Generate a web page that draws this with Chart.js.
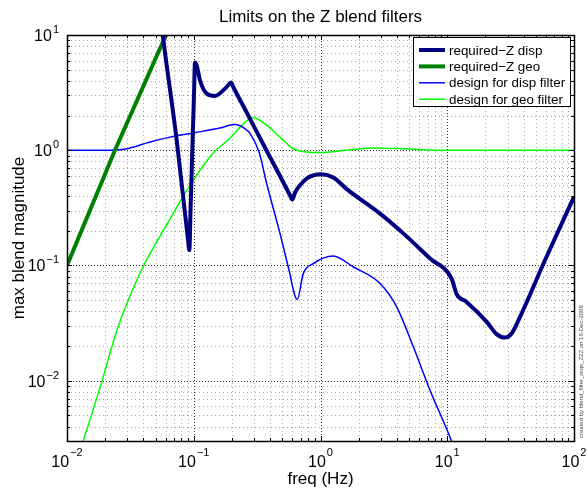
<!DOCTYPE html>
<html>
<head>
<meta charset="utf-8">
<script src="https://cdn.jsdelivr.net/npm/chart.js@4.4.0/dist/chart.umd.min.js"></script>
<style>
  html, body { margin: 0; padding: 0; background: #fff; }
  #wrap { width: 588px; height: 493px; position: relative; }
</style>
</head>
<body>
<div id="wrap"><canvas id="graf"></canvas></div>
<script>
// required-Z disp (thick navy)
const reqDispFreq = [0.0551, 0.0569, 0.0734, 0.0901, 0.0923, 0.0943, 0.1004, 0.1023, 0.106, 0.112, 0.1265, 0.147, 0.171, 0.19, 0.197, 0.205, 0.262, 0.376, 0.479, 0.5745, 0.6, 0.629, 0.778, 0.877, 1.02, 1.262, 1.61, 2.95, 4.5, 7.31, 10.8, 11.9, 14.2, 20.5, 24.5, 28.6, 32.2, 37.5, 59, 100]
const reqDispMag = [13.5, 10, 1.22, 0.167, 0.136, 0.298, 2.99, 5.76, 5.35, 4.05, 3.1, 2.96, 3.31, 3.74, 3.87, 3.54, 2.12, 0.99, 0.598, 0.407, 0.373, 0.428, 0.568, 0.605, 0.619, 0.58, 0.46, 0.282, 0.19, 0.115, 0.0771, 0.056, 0.0483, 0.0324, 0.0254, 0.0237, 0.0257, 0.0358, 0.111, 0.394]

// required-Z geo (thick green)
const reqGeoFreq = [0.01, 0.0239, 0.0604, 0.065]
const reqGeoMag = [0.1, 1.0, 10, 12]

// design for disp filter (thin blue)
const dispFreq = [0.01, 0.02, 0.0296, 0.0452, 0.065, 0.102, 0.161, 0.2115, 0.2535, 0.278, 0.329, 0.376, 0.479, 0.557, 0.656, 0.731, 0.877, 1.26, 1.82, 2.95, 3.99, 5.4, 7.31, 10.8, 11.6]
const dispMag = [1.0, 1.0, 1.03, 1.18, 1.30, 1.42, 1.56, 1.67, 1.54, 1.40, 0.95, 0.514, 0.19, 0.097, 0.0507, 0.085, 0.104, 0.121, 0.097, 0.0698, 0.0438, 0.0197, 0.00828, 0.003, 0.0024]

// design for geo filter (thin lime)
const geoFreq = [0.0125, 0.0134, 0.0183, 0.0248, 0.0297, 0.0403, 0.0615, 0.0969, 0.1419, 0.193, 0.2403, 0.292, 0.376, 0.479, 0.61, 0.778, 0.991, 1.61, 2.61, 4.24, 8.26, 20, 100]
const geoMag = [0.0024, 0.003, 0.00885, 0.0275, 0.0468, 0.1, 0.228, 0.528, 0.942, 1.27, 1.65, 1.92, 1.65, 1.30, 1.03, 0.966, 0.955, 1.0, 1.047, 1.034, 1.0, 1.0, 1.0]

const seriesLabels = ['required\u2212Z disp', 'required\u2212Z geo', 'design for disp filter', 'design for geo filter']

// axis ticks (powers of ten)
const xDecades = [-2, -1, 0, 1, 2]
const yDecades = [-2, -1, 0, 1]
const xRange = [0.01, 100]
const yRange = [0.003, 10]

const titleText = 'Limits on the Z blend filters'
const xLabel = 'freq (Hz)'
const yLabel = 'max blend magnitude'
const sideNote = 'created by blend_filter_reqs_Z2Z on 16-Dec-2008'

const FONT = '"Liberation Sans", Arial, Helvetica, sans-serif'

function pts(xs, ys) {
  return xs.map(function (x, i) { return { x: x, y: ys[i] } })
}

// minor tick values (2..9 x 10^n) inside a range
function minorValues(lo, hi) {
  var out = []
  for (var e = Math.floor(Math.log10(lo)); e <= Math.ceil(Math.log10(hi)); e++) {
    for (var k = 2; k <= 9; k++) {
      var v = k * Math.pow(10, e)
      if (v >= lo * 0.999 && v <= hi * 1.001) out.push(v)
    }
  }
  return out
}

const matlabAxes = {
  id: 'matlabAxes',
  beforeDraw: function (chart) {
    const ctx = chart.ctx
    ctx.save()
    ctx.fillStyle = '#fff'
    ctx.fillRect(0, 0, chart.width, chart.height)
    ctx.restore()
  },
  beforeDatasetsDraw: function (chart) {
    const ctx = chart.ctx
    const a = chart.chartArea
    const xs = chart.scales.x
    const ys = chart.scales.y
    ctx.save()
    ctx.lineWidth = 1
    // minor grid
    ctx.setLineDash([1, 3])
    ctx.strokeStyle = '#a8a8a8'
    minorValues(xRange[0], xRange[1]).forEach(function (v) {
      const px = Math.round(xs.getPixelForValue(v)) + 0.5
      ctx.beginPath(); ctx.moveTo(px, a.top); ctx.lineTo(px, a.bottom); ctx.stroke()
    })
    minorValues(yRange[0], yRange[1]).forEach(function (v) {
      const py = Math.round(ys.getPixelForValue(v)) + 0.5
      ctx.beginPath(); ctx.moveTo(a.left, py); ctx.lineTo(a.right, py); ctx.stroke()
    })
    // major grid
    ctx.setLineDash([1, 2])
    ctx.strokeStyle = '#333'
    xDecades.forEach(function (d) {
      const px = Math.round(xs.getPixelForValue(Math.pow(10, d))) + 0.5
      ctx.beginPath(); ctx.moveTo(px, a.top); ctx.lineTo(px, a.bottom); ctx.stroke()
    })
    yDecades.forEach(function (d) {
      const py = Math.round(ys.getPixelForValue(Math.pow(10, d))) + 0.5
      ctx.beginPath(); ctx.moveTo(a.left, py); ctx.lineTo(a.right, py); ctx.stroke()
    })
    ctx.restore()
  },
  afterDatasetsDraw: function (chart) {
    const ctx = chart.ctx
    const a = chart.chartArea
    const xs = chart.scales.x
    const ys = chart.scales.y
    ctx.save()
    ctx.setLineDash([])
    ctx.strokeStyle = '#000'
    ctx.lineWidth = 1

    // inward ticks on all four sides
    function xTick(v, len) {
      const px = Math.round(xs.getPixelForValue(v)) + 0.5
      ctx.beginPath()
      ctx.moveTo(px, a.bottom); ctx.lineTo(px, a.bottom - len)
      ctx.moveTo(px, a.top); ctx.lineTo(px, a.top + len)
      ctx.stroke()
    }
    function yTick(v, len) {
      const py = Math.round(ys.getPixelForValue(v)) + 0.5
      ctx.beginPath()
      ctx.moveTo(a.left, py); ctx.lineTo(a.left + len, py)
      ctx.moveTo(a.right, py); ctx.lineTo(a.right - len, py)
      ctx.stroke()
    }
    minorValues(xRange[0], xRange[1]).forEach(function (v) { xTick(v, 3) })
    minorValues(yRange[0], yRange[1]).forEach(function (v) { yTick(v, 3) })
    xDecades.forEach(function (d) { xTick(Math.pow(10, d), 5) })
    yDecades.forEach(function (d) { yTick(Math.pow(10, d), 5) })

    // box
    ctx.lineWidth = 1.5
    ctx.strokeRect(Math.round(a.left) + 0.5, Math.round(a.top) + 0.5, Math.round(a.right - a.left), Math.round(a.bottom - a.top))

    // tick labels 10^n
    ctx.fillStyle = '#000'
    ctx.textBaseline = 'alphabetic'
    const baseFont = '16px ' + FONT
    const expFont = '11px ' + FONT
    xDecades.forEach(function (d) {
      const px = xs.getPixelForValue(Math.pow(10, d))
      const ex = String(d).replace('-', '\u2212')
      ctx.font = baseFont
      const w10 = ctx.measureText('10').width
      ctx.font = expFont
      const we = ctx.measureText(ex).width
      const x0 = px - (w10 + we + 1) / 2
      ctx.font = baseFont
      ctx.textAlign = 'left'
      ctx.fillText('10', x0, a.bottom + 26)
      ctx.font = expFont
      ctx.fillText(ex, x0 + w10 + 1, a.bottom + 15)
    })
    yDecades.forEach(function (d) {
      const py = ys.getPixelForValue(Math.pow(10, d))
      const ex = String(d).replace('-', '\u2212')
      const right = a.left - 8
      ctx.font = expFont
      const we = ctx.measureText(ex).width
      ctx.textAlign = 'left'
      ctx.fillText(ex, right - we, py - 2)
      ctx.font = baseFont
      ctx.textAlign = 'right'
      ctx.fillText('10', right - we - 1, py + 6)
    })

    // title and axis labels
    const cx = (a.left + a.right) / 2
    ctx.textAlign = 'center'
    ctx.font = '17px ' + FONT
    ctx.fillText(titleText, cx, 22)
    ctx.fillText(xLabel, cx, 484)
    ctx.save()
    ctx.translate(24, (a.top + a.bottom) / 2)
    ctx.rotate(-Math.PI / 2)
    ctx.fillText(yLabel, 0, 0)
    ctx.restore()

    // legend box
    const lx = 413, ly = 37, lw = 157, lh = 69
    ctx.fillStyle = '#fff'
    ctx.fillRect(lx, ly, lw, lh)
    ctx.lineWidth = 1
    ctx.strokeStyle = '#000'
    ctx.strokeRect(lx + 0.5, ly + 0.5, lw, lh)
    ctx.font = '13.4px ' + FONT
    ctx.textAlign = 'left'
    ctx.textBaseline = 'middle'
    chart.data.datasets.forEach(function (ds, i) {
      const ry = ly + 13 + i * 16.4
      ctx.strokeStyle = ds.borderColor
      ctx.lineWidth = ds.borderWidth
      ctx.beginPath(); ctx.moveTo(lx + 6, ry); ctx.lineTo(lx + 32, ry); ctx.stroke()
      ctx.fillStyle = '#000'
      ctx.fillText(ds.label, lx + 36, ry + 1)
    })

    // small vertical note at the right edge
    ctx.save()
    ctx.translate(581, a.bottom - 3)
    ctx.rotate(-Math.PI / 2)
    ctx.font = '6px ' + FONT
    ctx.fillStyle = '#444'
    ctx.textAlign = 'left'
    ctx.textBaseline = 'middle'
    ctx.fillText(sideNote, 0, 0)
    ctx.restore()
    ctx.restore()
  }
}

window.addEventListener('DOMContentLoaded', function () {
  const ctx = document.getElementById('graf').getContext('2d')
  new Chart(ctx, {
    type: 'line',
    data: {
      datasets: [{
        label: seriesLabels[0],
        data: pts(reqDispFreq, reqDispMag),
        borderColor: '#000080',
        borderWidth: 4,
        cubicInterpolationMode: 'monotone'
      }, {
        label: seriesLabels[1],
        data: pts(reqGeoFreq, reqGeoMag),
        borderColor: '#008000',
        borderWidth: 4,
        tension: 0
      }, {
        label: seriesLabels[2],
        data: pts(dispFreq, dispMag),
        borderColor: '#0000ff',
        borderWidth: 1.5,
        cubicInterpolationMode: 'monotone'
      }, {
        label: seriesLabels[3],
        data: pts(geoFreq, geoMag),
        borderColor: '#00ff00',
        borderWidth: 1.5,
        cubicInterpolationMode: 'monotone'
      }]
    },
    options: {
      responsive: true,
      maintainAspectRatio: false,
      animation: false,
      layout: { padding: { left: 67, right: 14, top: 35, bottom: 52 } },
      elements: { point: { radius: 0 } },
      scales: {
        x: { type: 'logarithmic', min: xRange[0], max: xRange[1], display: false },
        y: { type: 'logarithmic', min: yRange[0], max: yRange[1], display: false }
      },
      plugins: {
        legend: { display: false },
        title: { display: false },
        tooltip: { enabled: false }
      }
    },
    plugins: [matlabAxes]
  })
})
</script>
</body>
</html>
